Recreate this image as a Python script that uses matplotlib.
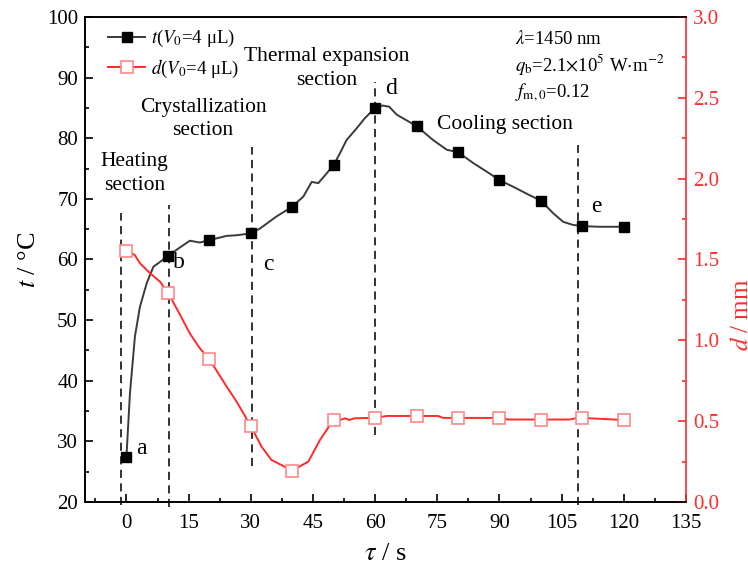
import numpy as np
import matplotlib
matplotlib.use("Agg")
import matplotlib.pyplot as plt
from matplotlib.lines import Line2D

plt.rcParams['font.family'] = ['Liberation Serif', 'DejaVu Serif']
plt.rcParams['mathtext.fontset'] = 'stix'

# Temperature t (°C) versus time tau (s)
tau_t = [0, 0.85, 2.05, 3.26, 4.9, 6.5, 8.1, 10, 12.1, 15.3, 17.7, 20, 24.2, 26.6,
         30, 32.2, 36.2, 40, 42.7, 44.7, 46.3, 48.3, 50, 51.5, 53.1, 55.5, 57.5,
         60, 61.8, 63.4, 65.2, 70, 74, 77.3, 80, 83.7, 86.9, 90, 93.3, 97.3, 100,
         103, 105.4, 107.8, 110, 114.2, 120]
t_vals = [27.4, 37.9, 47.3, 52.2, 56.1, 58.8, 59.6, 60.6, 61.6, 63.1, 62.8, 63.2,
          63.9, 64.0, 64.3, 65.1, 67.1, 68.7, 70.4, 72.8, 72.6, 74.2, 75.6, 77.5,
          79.7, 81.6, 83.3, 85.0, 85.4, 85.2, 83.9, 82.0, 79.7, 78.1, 77.7, 75.9,
          74.5, 73.1, 72.0, 70.6, 69.7, 67.6, 66.2, 65.7, 65.5, 65.4, 65.4]

# Droplet diameter d (mm) versus time tau (s)
tau_d = [0, 2, 3.3, 5.7, 8.1, 10, 12.1, 15.3, 17.7, 20, 24.2, 26.6, 30, 32.6, 35,
         37.8, 40, 43.9, 46.7, 50, 51.9, 52.8, 53.7, 55.1, 60, 62.8, 70, 75.2,
         76.4, 80, 90, 90.7, 92, 100, 107, 108.7, 110, 120]
d_vals = [1.554, 1.528, 1.476, 1.415, 1.363, 1.295, 1.198, 1.043, 0.951, 0.883,
          0.713, 0.62, 0.47, 0.342, 0.26, 0.223, 0.194, 0.25, 0.384, 0.51, 0.51,
          0.518, 0.507, 0.518, 0.52, 0.532, 0.532, 0.532, 0.52, 0.52, 0.52, 0.52,
          0.51, 0.51, 0.51, 0.52, 0.52, 0.507]

# Stage boundaries: (tau, t_bottom, t_top)
boundary_tau = [-1.3, 10.3, 30.4, 60.0, 108.9]
boundary_lo = [19.5, 19.2, 26.0, 31.0, 19.5]
boundary_hi = [67.7, 69.0, 78.5, 89.2, 78.9]

# Point labels
point_names = ['a', 'b', 'c', 'd', 'e']
point_tau = [2.3, 11.3, 33.0, 62.5, 112.0]
point_t = [28.8, 59.5, 59.2, 88.2, 68.8]

# Section labels
section_text = ['Heating\nsection', 'Crystallization\nsection',
                'Thermal expansion\nsection', 'Cooling section']
section_tau = [2.0, 18.5, 48.2, 91.3]
section_t = [74.2, 83.2, 91.5, 82.2]

tau_t = np.array(tau_t)
tau_d = np.array(tau_d)
t_vals = np.array(t_vals)
d_vals = np.array(d_vals)

fig = plt.figure(figsize=(7.48, 5.75), dpi=100)
ax = fig.add_axes([0.1136, 0.127, 0.8035, 0.8434])
ax2 = ax.twinx()

red = '#ff2a2a'
mred = '#ff8888'

# Temperature curve with markers every 10 s
ax.plot(tau_t, t_vals, color='#3a3a3a', lw=1.4, zorder=3)
mk_t = np.isclose(tau_t % 10, 0)
ax.plot(tau_t[mk_t], t_vals[mk_t], ls='none', marker='s', ms=7,
        color='black', zorder=4)

# Diameter curve with markers every 10 s
ax2.plot(tau_d, d_vals, color=red, lw=1.4, zorder=3)
mk_d = np.isclose(tau_d % 10, 0)
ax2.plot(tau_d[mk_d], d_vals[mk_d], ls='none', marker='s', ms=8,
         mfc='white', mec=mred, mew=1.2, zorder=4)

# Dashed stage boundaries
for x, lo, hi in zip(boundary_tau, boundary_lo, boundary_hi):
    ax.plot([x, x], [lo, hi], color='#222222', ls=(0, (4.5, 3)), lw=1.3,
            clip_on=False, zorder=2)

for s, x, y in zip(point_names, point_tau, point_t):
    ax.text(x, y, s, fontsize=17, ha='left', va='center')

for s, x, y in zip(section_text, section_tau, section_t):
    ax.text(x, y, s, fontsize=15.5, ha='center', va='center', linespacing=1.3)

# Experimental parameters
ax.text(0.716, 0.974,
        r'$\lambda$=1450 nm' + '\n' +
        r'$q_{\rm b}$=2.1$\times$10$^5$ W$\cdot$m$^{-2}$' + '\n' +
        r'$f_{\rm m,0}$=0.12',
        transform=ax.transAxes, fontsize=13.5, ha='left', va='top',
        linespacing=1.25)

# Axes formatting
ax.set_xlim(-10, 135)
ax.set_ylim(20, 100)
ax2.set_ylim(0, 3.0)
ax.set_xticks(np.arange(0, 136, 15))
ax.set_xticks(np.arange(-7.5, 135, 7.5), minor=True)
ax.set_yticks(np.arange(20, 101, 10))
ax.set_yticks(np.arange(25, 100, 10), minor=True)
ax2.set_yticks(np.arange(0, 3.01, 0.5))
ax2.set_yticks(np.arange(0.25, 3.0, 0.5), minor=True)
ax2.yaxis.set_major_formatter(matplotlib.ticker.FormatStrFormatter('%.1f'))

ax.tick_params(axis='both', which='major', direction='in', length=6, width=1.2,
               labelsize=15, pad=9)
ax.tick_params(axis='y', which='major', pad=5)
ax.tick_params(axis='both', which='minor', direction='in', length=3, width=1.2)
ax.tick_params(axis='y', right=False)
ax.tick_params(axis='x', top=False, which='both')
ax2.tick_params(axis='y', which='major', direction='in', length=6, width=1.2,
                colors=red, labelsize=15, pad=5)
ax2.tick_params(axis='y', which='minor', direction='in', length=3, width=1.2,
                colors=red)

for sp in ['left', 'bottom', 'top']:
    ax.spines[sp].set_linewidth(1.2)
    ax2.spines[sp].set_linewidth(1.2)
ax2.spines['right'].set_color(red)
ax2.spines['right'].set_linewidth(1.2)
ax.spines['right'].set_visible(False)

ax.set_xlabel(r'$\tau$ / s', fontsize=19)
ax.xaxis.set_label_coords(0.5, -0.085)
ax.set_ylabel(r'$t$ / °C', fontsize=19)
ax.yaxis.set_label_coords(-0.075, 0.5)
ax2.set_ylabel(r'$d$ / mm', fontsize=18, color=red)
ax2.yaxis.set_label_coords(1.075, 0.386)

handles = [
    Line2D([], [], color='#3a3a3a', lw=1.4, marker='s', ms=7, mfc='black',
           mec='black'),
    Line2D([], [], color=red, lw=1.4, marker='s', ms=8, mfc='white',
           mec=mred, mew=1.2),
]
labels = [r'$t$($V_0$=4 μL)', r'$d$($V_0$=4 μL)']
ax.legend(handles, labels, loc='upper left', bbox_to_anchor=(0.01, 1.012),
          frameon=False, fontsize=13.5, handlelength=2.0, handletextpad=0.3,
          labelspacing=0.45)

fig.savefig('out.png', dpi=100)
